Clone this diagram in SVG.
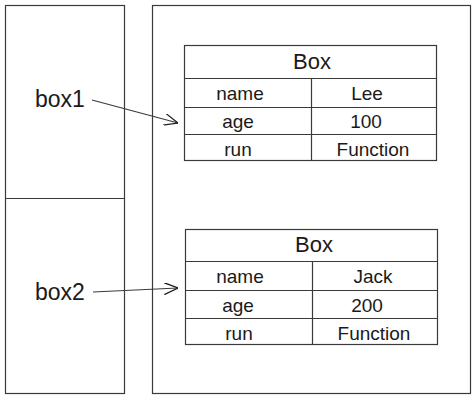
<svg xmlns="http://www.w3.org/2000/svg" width="476" height="400" viewBox="0 0 476 400">
<style>
.frame{fill:#fff;stroke:#3a3a3a;stroke-width:1.2}
.ln{stroke:#3a3a3a;stroke-width:1.2;fill:none}
.t{font-family:"Liberation Sans",Arial,sans-serif;fill:#1a1a1a;text-anchor:middle}
.hd{font-size:22px}
.row{font-size:19px}
.var{font-family:"Liberation Sans",Arial,sans-serif;font-size:23px;fill:#1a1a1a}
</style>
<defs>
<marker id="arr" viewBox="0 0 14 12" refX="14" refY="6" markerWidth="14" markerHeight="12" markerUnits="userSpaceOnUse" orient="auto">
<path d="M0,0 L14,6 L0,12" fill="none" stroke="#1a1a1a" stroke-width="1.2"/>
</marker>
</defs>
<rect width="476" height="400" fill="#fff"/>
<g id="stack">
<rect class="frame" x="5.5" y="5.5" width="119" height="388"/>
<line class="ln" x1="5.5" y1="198.5" x2="124.5" y2="198.5"/>
<text class="var" x="35" y="107">box1</text>
<text class="var" x="35" y="300">box2</text>
</g>
<g id="heap">
<rect class="frame" x="152.5" y="5.5" width="318" height="388"/>
</g>
<g id="box1obj">
<rect class="frame" x="184.5" y="45.5" width="252" height="115"/>
<line class="ln" x1="184.5" y1="78.5" x2="436.5" y2="78.5"/>
<line class="ln" x1="184.5" y1="107.5" x2="436.5" y2="107.5"/>
<line class="ln" x1="184.5" y1="134.5" x2="436.5" y2="134.5"/>
<line class="ln" x1="311.5" y1="78.5" x2="311.5" y2="160.5"/>
<text class="t hd" x="312" y="69">Box</text>
<text class="t row" x="240" y="100">name</text>
<text class="t row" x="367" y="100">Lee</text>
<text class="t row" x="238" y="128">age</text>
<text class="t row" x="366" y="128">100</text>
<text class="t row" x="238" y="156">run</text>
<text class="t row" x="373" y="156">Function</text>
</g>
<g id="box2obj">
<rect class="frame" x="185.5" y="229.5" width="252" height="115"/>
<line class="ln" x1="185.5" y1="261.5" x2="437.5" y2="261.5"/>
<line class="ln" x1="185.5" y1="290.5" x2="437.5" y2="290.5"/>
<line class="ln" x1="185.5" y1="318.5" x2="437.5" y2="318.5"/>
<line class="ln" x1="312.5" y1="261.5" x2="312.5" y2="344.5"/>
<text class="t hd" x="314" y="252">Box</text>
<text class="t row" x="240" y="283">name</text>
<text class="t row" x="373" y="283">Jack</text>
<text class="t row" x="238" y="312">age</text>
<text class="t row" x="367" y="312">200</text>
<text class="t row" x="239" y="340">run</text>
<text class="t row" x="374" y="340">Function</text>
</g>
<g id="connectors">
<line class="ln" x1="92" y1="100" x2="178" y2="123" stroke="#1a1a1a" marker-end="url(#arr)"/>
<line class="ln" x1="93" y1="292" x2="178" y2="288" stroke="#1a1a1a" marker-end="url(#arr)"/>
</g>
</svg>
